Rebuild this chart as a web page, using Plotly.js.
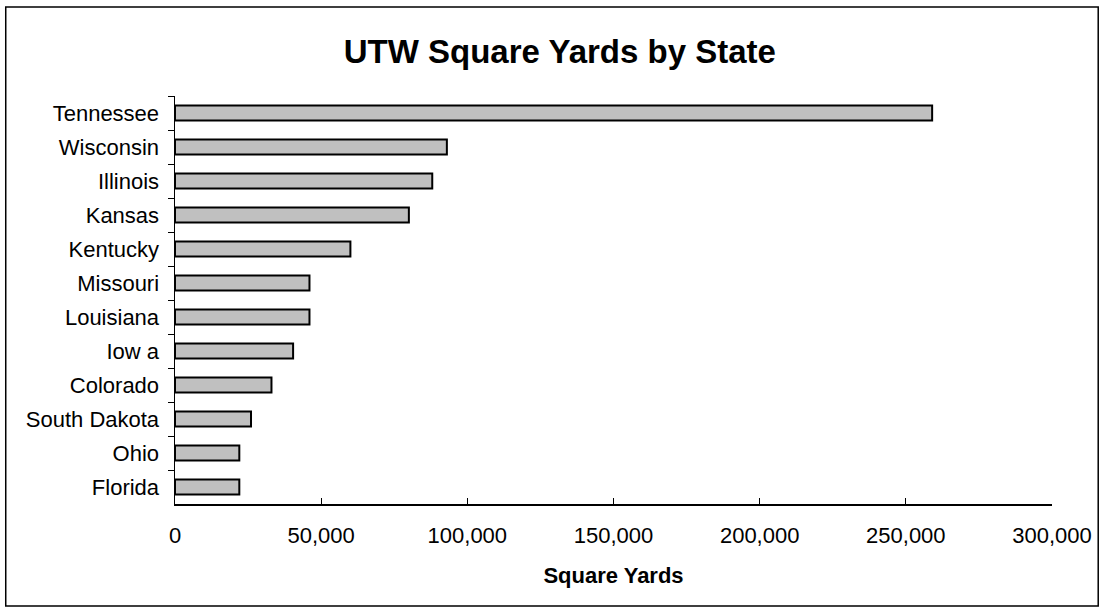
<!DOCTYPE html>
<html>
<head>
<meta charset="utf-8">
<script src="https://cdn.plot.ly/plotly-3.0.1.min.js"></script>
<style>
  html, body { margin: 0; padding: 0; background: #ffffff; }
  #chart { width: 1102px; height: 610px; }
</style>
</head>
<body>
<div id="chart"></div>
<script>
// Data (top to bottom as shown)
const states = ["Tennessee", "Wisconsin", "Illinois", "Kansas", "Kentucky", "Missouri",
                "Louisiana", "Iow a", "Colorado", "South Dakota", "Ohio", "Florida"];
const squareYards = [259000, 93000, 88000, 80000, 60000, 46000,
                     46000, 40400, 33000, 26000, 22000, 22000];
const xTickValues = [0, 50000, 100000, 150000, 200000, 250000, 300000];
const xTickLabels = ["0", "50,000", "100,000", "150,000", "200,000", "250,000", "300,000"];
const chartTitle = "UTW Square Yards by State";
const xTitle = "Square Yards";

const trace = {
  type: "bar",
  orientation: "h",
  y: states,
  x: squareYards,
  marker: { color: "#c0c0c0", line: { color: "#000000", width: 2 } },
  hoverinfo: "skip"
};

const layout = {
  width: 1102,
  height: 610,
  paper_bgcolor: "#ffffff",
  plot_bgcolor: "#ffffff",
  margin: { l: 174.5, r: 49.5, t: 96, b: 106, pad: 0 },
  font: { family: "Liberation Sans, Arial, sans-serif", size: 22, color: "#000000" },
  showlegend: false,
  bargap: 0.56,
  title: {
    text: "<b>" + chartTitle + "</b>",
    font: { family: "Liberation Sans, Arial, sans-serif", size: 33, color: "#000000" },
    x: 0.508, xref: "container", xanchor: "center",
    y: 0.915, yref: "container", yanchor: "middle"
  },
  xaxis: {
    range: [0, 300000],
    tickvals: xTickValues,
    ticktext: xTickLabels,
    ticks: "inside",
    ticklen: 6,
    tickwidth: 1,
    tickcolor: "#000000",
    showline: true,
    linecolor: "#000000",
    linewidth: 1.5,
    showgrid: false,
    zeroline: false,
    ticklabelstandoff: 11,
    tickfont: { size: 22, color: "#000000" },
    title: {
      text: "<b>" + xTitle + "</b>",
      font: { size: 22, color: "#000000" },
      standoff: 20
    },
    automargin: false,
    fixedrange: true
  },
  yaxis: {
    type: "category",
    autorange: "reversed",
    tickson: "boundaries",
    ticks: "outside",
    ticklen: 6,
    tickwidth: 1,
    tickcolor: "#000000",
    showline: true,
    linecolor: "#000000",
    linewidth: 1.5,
    showgrid: false,
    zeroline: false,
    ticklabelstandoff: 10,
    tickfont: { size: 22, color: "#000000" },
    automargin: false,
    fixedrange: true
  },
  shapes: [{
    type: "rect",
    xref: "paper", yref: "paper",
    x0: -0.1930, x1: 1.0527,
    y0: -0.250, y1: 1.218,
    line: { color: "#000000", width: 1.5 },
    fillcolor: "rgba(0,0,0,0)",
    layer: "below"
  }]
};

Plotly.newPlot("chart", [trace], layout, { displayModeBar: false, staticPlot: true });
</script>
</body>
</html>
